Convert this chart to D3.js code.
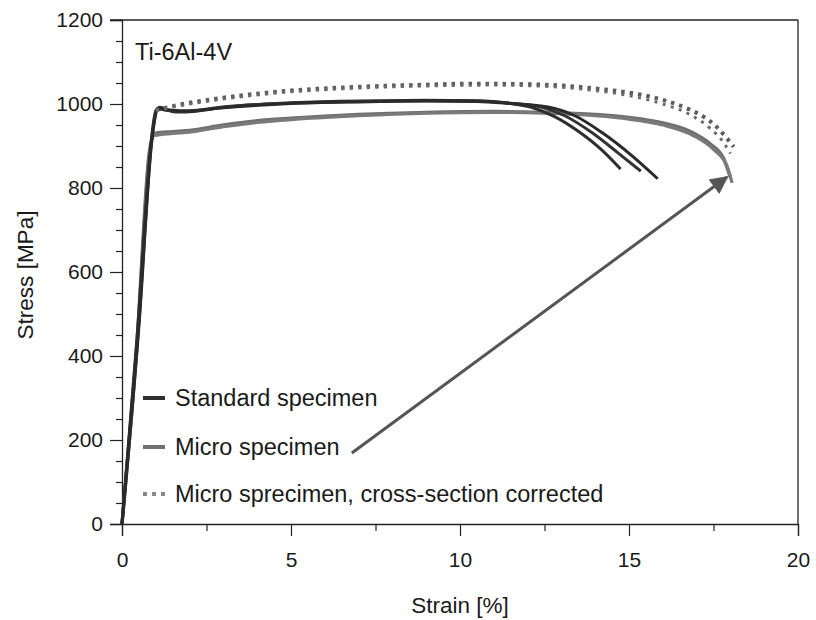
<!DOCTYPE html>
<html>
<head>
<meta charset="utf-8">
<script src="https://cdn.jsdelivr.net/npm/d3@7/dist/d3.min.js"></script>
<style>
  body { margin: 0; background: #fff; }
  text { font-family: "Liberation Sans", Arial, sans-serif; fill: #1a1a1a; }
</style>
</head>
<body>
<svg id="chart"></svg>
<script>
// Datos (strain [%], stress [MPa])
const xTicks = [0, 5, 10, 15, 20];
const yTicks = [0, 200, 400, 600, 800, 1000, 1200];

const standard1 = [[0,0],[0.45,450],[0.85,900],[1.0,985],[1.2,988],[1.6,981],[2.2,983],[3,992],[5,1002],[7,1006],[9,1009],[10.5,1008],[11.5,1001],[12.2,990],[12.8,970],[13.5,935],[14.2,890],[14.75,845]];
const standard2 = [[0,0],[0.5,480],[0.9,930],[1.05,990],[1.3,985],[1.8,982],[3,993],[5,1003],[7,1007],[9,1008],[10.5,1007],[11.5,1002],[12.4,993],[13.1,972],[13.9,932],[14.7,882],[15.35,840]];
const standard3 = [[0,0],[0.5,470],[0.9,925],[1.1,992],[1.4,986],[2,984],[3,991],[5,1001],[7,1005],[9,1007],[10.5,1006],[11.5,1001],[12.6,993],[13.4,972],[14.2,932],[15.1,876],[15.85,822]];

const micro1 = [[0,0],[0.45,440],[0.8,880],[0.95,930],[1.5,934],[2,937],[3,950],[4,960],[5,966],[7,975],[9,980],[11,982],[12.5,980],[14,975],[15,968],[16,955],[16.8,935],[17.4,905],[17.8,870],[18.0,825]];
const micro2 = [[0,0],[0.45,430],[0.8,870],[0.95,925],[1.5,930],[2,933],[3,946],[4,956],[5,963],[7,972],[9,978],[11,980],[12.5,978],[14,972],[15,964],[16,950],[16.9,925],[17.5,892],[17.9,852],[18.05,812]];

const corrected1 = [[1.0,985],[1.5,995],[2,1003],[3,1015],[5,1032],[7,1041],[9,1046],[10,1048],[11,1048],[12,1047],[13,1044],[14,1037],[15,1027],[16,1010],[16.7,990],[17.2,970],[17.6,945],[17.9,918],[18.1,898]];
const corrected2 = [[1.0,985],[2,1000],[3,1012],[5,1029],[7,1038],[9,1043],[11,1045],[13,1040],[14,1032],[15,1020],[16,1000],[16.8,975],[17.4,942],[17.8,908],[18.0,882]];

const arrowFrom = [6.8, 169];
const arrowTo = [17.9, 826];

const legendItems = ["Standard specimen", "Micro specimen", "Micro sprecimen, cross-section corrected"];
const titleText = "Ti-6Al-4V";

const width = 816, height = 620;
const margin = { left: 122, right: 18, top: 20, bottom: 96 };

const svg = d3.select("#chart").attr("width", width).attr("height", height);

const x = d3.scaleLinear().domain([0, 20]).range([margin.left, width - margin.right]);
const y = d3.scaleLinear().domain([0, 1200]).range([height - margin.bottom, margin.top]);

// Marco
svg.append("line").attr("x1", x(0) - 12).attr("x2", x(20)).attr("y1", y(1200)).attr("y2", y(1200))
  .attr("stroke", "#222").attr("stroke-width", 1.3);
svg.append("line").attr("x1", x(20)).attr("x2", x(20)).attr("y1", y(1200)).attr("y2", y(0))
  .attr("stroke", "#222").attr("stroke-width", 1.3);

// Ejes
svg.append("g").attr("transform", `translate(0,${y(0)})`)
  .call(d3.axisBottom(x).tickValues(xTicks).tickSize(12).tickPadding(16).tickFormat(d3.format("d")));
svg.append("g").attr("transform", `translate(0,${y(0)})`)
  .call(d3.axisBottom(x).tickValues(d3.range(2.5, 20, 5)).tickSize(7).tickFormat(""))
  .select(".domain").remove();
svg.append("g").attr("transform", `translate(${x(0)},0)`)
  .call(d3.axisLeft(y).tickValues(yTicks).tickSize(12).tickPadding(7).tickFormat(d3.format("d")));
svg.append("g").attr("transform", `translate(${x(0)},0)`)
  .call(d3.axisLeft(y).tickValues(d3.range(50, 1200, 50).filter(v => v % 200 !== 0)).tickSize(6).tickFormat(""))
  .select(".domain").remove();

svg.selectAll(".domain").attr("stroke", "#222").attr("stroke-width", 1.3);
svg.selectAll(".tick line").attr("stroke", "#222").attr("stroke-width", 1.2);
svg.selectAll(".tick text").attr("font-size", 21).attr("fill", "#1a1a1a")
  .style("font-family", "'Liberation Sans', Arial, sans-serif");

svg.append("text").attr("x", x(10)).attr("y", 613).attr("text-anchor", "middle")
  .attr("font-size", 22.5).text("Strain [%]");
svg.append("text").attr("transform", `translate(33,${y(600) + 3}) rotate(-90)`).attr("text-anchor", "middle")
  .attr("font-size", 22.5).text("Stress [MPa]");

svg.append("text").attr("x", 135).attr("y", 60).attr("font-size", 23.5).text(titleText);

// Curvas
const line = d3.line().x(d => x(d[0])).y(d => y(d[1])).curve(d3.curveMonotoneX);

const curves = [
  { data: micro1, color: "#707070", width: 3.5, dash: null },
  { data: micro2, color: "#7a7a7a", width: 3.2, dash: null },
  { data: standard1, color: "#2e2e2e", width: 3, dash: null },
  { data: standard2, color: "#333", width: 3, dash: null },
  { data: standard3, color: "#2a2a2a", width: 3, dash: null },
  { data: corrected1, color: "#5c5c5c", width: 4, dash: "3.5,5" },
  { data: corrected2, color: "#6a6a6a", width: 3, dash: "3,5.5" }
];

svg.append("g").selectAll("path")
  .data(curves)
  .enter()
  .append("path")
  .attr("d", d => line(d.data))
  .attr("fill", "none")
  .attr("stroke", d => d.color)
  .attr("stroke-width", d => d.width)
  .attr("stroke-dasharray", d => d.dash)
  .attr("stroke-linejoin", "round");

// Flecha
svg.append("defs").append("marker")
  .attr("id", "arrow").attr("viewBox", "0 0 10 10").attr("refX", 9).attr("refY", 5)
  .attr("markerWidth", 8.5).attr("markerHeight", 6).attr("markerUnits", "strokeWidth")
  .attr("orient", "auto")
  .append("path").attr("d", "M0,0 L10,5 L0,10 Z").attr("fill", "#555");

svg.append("line")
  .attr("x1", x(arrowFrom[0])).attr("y1", y(arrowFrom[1]))
  .attr("x2", x(arrowTo[0])).attr("y2", y(arrowTo[1]))
  .attr("stroke", "#555").attr("stroke-width", 3)
  .attr("marker-end", "url(#arrow)");

// Leyenda
const legendY = [398, 447, 494];
const legendStyle = [
  { color: "#2e2e2e", dash: null },
  { color: "#707070", dash: null },
  { color: "#888", dash: "4,5" }
];
const legend = svg.append("g").selectAll("g")
  .data(legendItems)
  .enter()
  .append("g")
  .attr("transform", (d, i) => `translate(143,${legendY[i]})`);

legend.append("line")
  .attr("x1", 0).attr("x2", 22).attr("y1", 0).attr("y2", 0)
  .attr("stroke", (d, i) => legendStyle[i].color)
  .attr("stroke-width", 4)
  .attr("stroke-dasharray", (d, i) => legendStyle[i].dash);

legend.append("text")
  .attr("x", 32).attr("y", 8)
  .attr("font-size", 23.5)
  .text(d => d);
</script>
</body>
</html>
